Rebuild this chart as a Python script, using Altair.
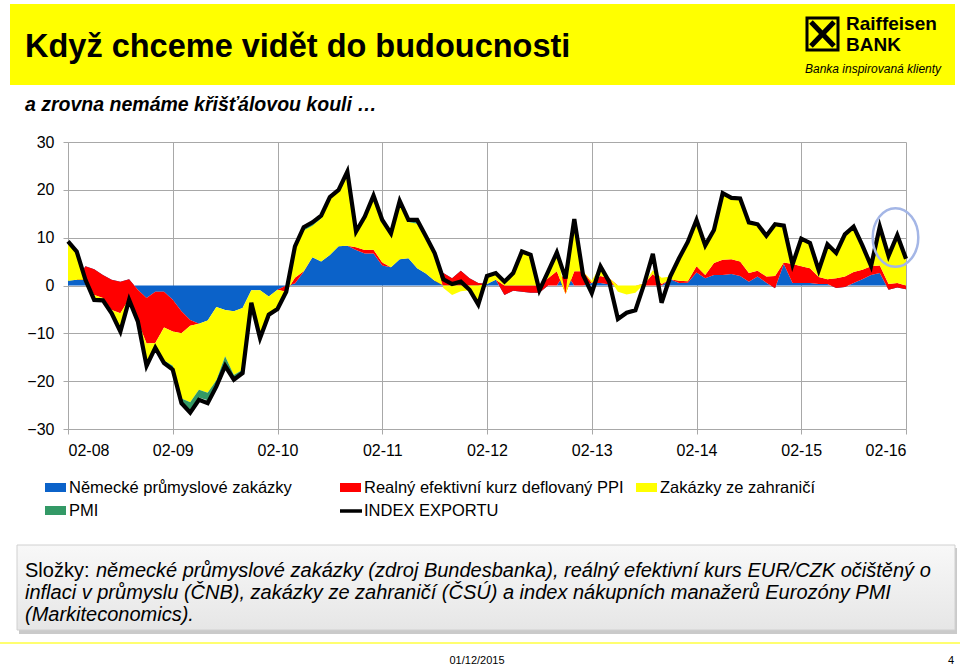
import altair as alt
import numpy as np
import pandas as pd

# ---------------- data ----------------
tick_labels = ["02-08", "02-09", "02-10", "02-11", "02-12", "02-13", "02-14", "02-15", "02-16"]
months = list(range(97))  # monthly, 2008-02 ... 2016-02

german_orders = [1.0, 1.2, 4.0, 3.4, 2.2, 1.2, 0.8, 1.3, -0.9, -2.6,
                 -1.3, -1.3, -3.0, -5.4, -7.2, -8.0, -7.3, -4.5, -5.1, -5.4,
                 -4.7, -1.0, -1.0, -2.3, -0.9, 0.0, 0.4, 2.9, 5.9, 5.0,
                 6.4, 8.2, 8.3, 7.4, 6.7, 6.7, 4.2, 3.8, 5.5, 5.7,
                 3.6, 2.5, 1.0, 2.6, 1.5, 3.1, 1.5, 0.5, 0.3, 1.2,
                 -2.0, -1.1, -1.3, -1.5, -1.5, 0.0, 0.0, 2.8, 0.0, 0.0,
                 0.5, 0.5, 0.2, 0.0, 0.0, 0.0, 0.0, 0.0, 0.0, 1.3,
                 0.5, 0.6, 2.7, 1.5, 2.2, 2.2, 2.4, 2.0, 0.8, 1.9,
                 0.6, -0.6, 4.5, 0.5, 0.5, 0.5, 0.3, 0.3, -0.5, -0.3,
                 0.5, 1.3, 2.2, 2.6, -0.9, -0.4, -0.8]

reer = [0.0, 0.0, -2.8, -5.4, -4.8, -6.3, -6.6, -4.1, -6.6, -9.5,
        -10.7, -7.5, -6.6, -4.6, -1.2, 0.0, 0.0, 0.0, 0.0, 0.0,
        0.0, 0.0, 0.0, 0.0, 0.0, -1.3, 1.2, 0.1, 0.0, 0.0,
        0.0, 0.0, 0.0, 0.6, 0.7, 0.8, 0.6, 0.0, 0.0, 0.0,
        0.0, 0.0, 0.0, -2.6, -1.5, -3.1, -1.5, -0.5, 0.0, 0.0,
        2.0, 1.1, 1.3, 1.5, 1.5, 1.5, 3.0, -4.6, 3.0, 3.0,
        0.0, 1.5, 1.3, 0.0, 0.0, 0.0, 0.3, 2.4, 0.3, 0.0,
        0.5, 0.3, 1.3, 0.7, 2.5, 3.2, 3.1, 3.0, 1.8, 1.2,
        1.3, 2.6, 0.3, 4.0, 3.5, 3.1, 1.5, 1.0, 2.0, 2.2,
        2.3, 2.0, 1.8, 1.6, 1.2, 0.9, 0.8]

foreign_orders = [8.2, 5.9, 0.0, -1.0, -0.5, -0.7, -3.8, -0.2, 0.0, -4.7,
                  -0.8, -6.9, -7.2, -13.6, -16.0, -13.8, -15.1, -15.3, -9.7, -13.3,
                  -12.9, -2.4, -9.8, -3.7, -3.9, 0.0, 6.4, 8.5, 6.6, 9.0,
                  11.7, 11.4, 15.2, 3.0, 6.7, 11.0, 8.5, 6.5, 11.9, 7.6,
                  9.3, 7.2, 5.5, -0.5, -2.0, -1.2, -1.0, -3.3, 1.7, 1.4,
                  0.8, 2.6, 7.1, 6.4, 0.0, 1.4, 3.9, 0.0, 10.9, 0.0,
                  0.5, 2.0, 0.0, -1.3, -1.9, -1.5, 0.0, 0.8, 1.3, 0.6,
                  4.7, 8.1, 9.7, 6.2, 6.9, 13.9, 12.8, 13.2, 10.6, 9.7,
                  8.5, 10.8, 7.7, 0.0, 5.8, 5.3, 1.4, 7.3, 5.3, 8.8,
                  9.5, 5.1, 0.1, 8.1, 5.9, 10.0, 5.6]

pmi = [0.0, 0.0, 0.0, 0.0, 0.0, 0.0, 0.0, 0.0, 0.0, 0.0,
       -0.2, -0.5, -0.8, -1.0, -1.6, -1.6, -1.6, -1.0, -1.5, -0.8,
       -0.5, 0.0, 0.0, 0.0, 0.0, 0.0, 0.2, 0.6, 0.6, 0.5,
       0.4, 0.4, 0.3, 0.3, 0.3, 0.3, 0.4, 0.6, 0.3, 0.4,
       0.8, 0.6, 0.3, 0.0, 0.0, 0.0, 0.0, 0.0, 0.0, 0.0,
       0.0, 0.0, 0.0, 0.0, 0.0, 0.0, 0.0, 0.0, 0.0, 0.0,
       0.0, 0.0, 0.0, 0.0, 0.0, 0.0, 0.0, 0.0, 0.0, 0.0,
       0.0, 0.0, 0.0, 0.0, 0.0, 0.0, 0.0, 0.0, 0.0, 0.0,
       0.0, 0.0, 0.0, 0.0, 0.0, 0.0, 0.0, 0.0, 0.0, 0.0,
       0.0, 0.0, 0.0, 0.0, 0.0, 0.0, 0.0]

export_index = [9.2, 7.1, 1.2, -3.0, -3.1, -5.8, -9.6, -3.0, -7.5, -16.8,
                -13.0, -16.2, -17.6, -24.6, -26.6, -23.9, -24.6, -21.1, -16.8, -19.7,
                -18.3, -3.6, -11.0, -6.1, -4.9, -1.3, 8.2, 12.2, 13.2, 14.6,
                18.5, 20.0, 23.8, 11.3, 14.4, 18.8, 13.7, 10.9, 17.7, 13.7,
                13.7, 10.3, 6.8, 1.3, 0.3, 0.8, -0.9, -4.0, 2.0, 2.6,
                0.8, 2.6, 7.1, 6.4, -1.0, 2.9, 6.9, 1.5, 13.9, 2.2,
                -1.6, 4.0, 0.8, -7.0, -5.7, -5.2, 0.3, 6.6, -3.6, 1.9,
                5.7, 9.1, 13.7, 8.4, 11.6, 19.3, 18.3, 18.2, 13.2, 12.8,
                10.4, 12.8, 12.5, 4.4, 9.8, 8.9, 3.2, 8.6, 6.8, 10.7,
                12.3, 8.4, 4.1, 12.3, 6.2, 10.5, 5.6]

legend_labels = ["Německé průmyslové zakázky", "Realný efektivní kurz deflovaný PPI",
                 "Zakázky ze zahraničí", "PMI", "INDEX EXPORTU"]

title_text = "Když chceme vidět do budoucnosti"
subtitle_text = "a zrovna nemáme křišťálovou kouli …"
note_lead = "Složky:"
note_lines = ["německé průmyslové zakázky (zdroj Bundesbanka), reálný efektivní kurs EUR/CZK očištěný o",
              "inflaci v průmyslu (ČNB), zakázky ze zahraničí (ČSÚ) a index nákupních manažerů Eurozóny PMI",
              "(Markiteconomics)."]
footer_date = "01/12/2015"
footer_page = "4"
logo_lines = ["Raiffeisen", "BANK", "Banka inspirovaná klienty"]

# ---------------- styles ----------------
FONT = "Liberation Sans"
BLUE, RED, YELLOW, GREEN = "#0b62c9", "#ff0000", "#ffff00", "#339966"
GRID = "#a8a8a8"
OX, OY = 68, 142          # plot origin in page pixels
W, H = 838, 287           # plot area size


def P(X):
    return X - OX


def Q(Y):
    return Y - OY


one = pd.DataFrame({"k": [0]})

# Excel-like stacking: each series fills between previous cumulative and its own cumulative
c1 = np.array(german_orders)
c2 = c1 + np.array(reer)
c3 = c2 + np.array(foreign_orders)
c4 = c3 + np.array(pmi)
df = pd.DataFrame({"m": months, "c0": np.zeros(len(months)), "c1": c1, "c2": c2,
                   "c3": c3, "c4": c4, "idx": export_index})

label_expr = "[" + ",".join("'%s'" % t for t in tick_labels) + "][round(datum.value/12)]"

xs = alt.Scale(domain=[0, 96], nice=False, zero=False)
ys = alt.Scale(domain=[-30, 30], nice=False, zero=False)
x_axis = alt.Axis(values=list(range(0, 97, 12)), labelExpr=label_expr, title=None,
                  grid=True, gridColor=GRID, gridWidth=1, domainColor=GRID, tickColor=GRID,
                  tickSize=5, labelPadding=8, labelFontSize=16, labelFont=FONT,
                  labelColor="#000", labelAngle=0, labelOverlap=False)
y_axis = alt.Axis(values=[-30, -20, -10, 0, 10, 20, 30], title=None, grid=True,
                  gridColor=GRID, gridWidth=1, domainColor=GRID, tickColor=GRID,
                  tickSize=5, labelPadding=9, labelFontSize=16, labelFont=FONT,
                  labelColor="#000")


def band(lo, hi, color):
    return alt.Chart(df).mark_area(color=color, interpolate="linear", opacity=1).encode(
        x=alt.X("m:Q", scale=xs, axis=x_axis),
        y=alt.Y(f"{lo}:Q", scale=ys, axis=y_axis),
        y2=alt.Y2(f"{hi}:Q"),
    )


areas = [band("c0", "c1", BLUE), band("c1", "c2", RED),
         band("c2", "c3", YELLOW), band("c3", "c4", GREEN)]

line = alt.Chart(df).mark_line(color="#000", strokeWidth=4.2, strokeJoin="miter").encode(
    x=alt.X("m:Q", scale=xs, axis=x_axis),
    y=alt.Y("idx:Q", scale=ys, axis=y_axis),
)


def text_layer(s, X, Y, size, weight="normal", style="normal", align="left", color="#000"):
    return alt.Chart(one).mark_text(align=align, baseline="middle", fontSize=size,
                                    fontWeight=weight, fontStyle=style, font=FONT,
                                    color=color).encode(
        x=alt.value(P(X)), y=alt.value(Q(Y)), text=alt.value(s))


def rect_layer(X1, Y1, X2, Y2, **kw):
    return alt.Chart(one).mark_rect(**kw).encode(
        x=alt.value(P(X1)), x2=alt.value(P(X2)), y=alt.value(Q(Y1)), y2=alt.value(Q(Y2)))


def rule_layer(X1, Y1, X2, Y2, **kw):
    return alt.Chart(one).mark_rule(**kw).encode(
        x=alt.value(P(X1)), x2=alt.value(P(X2)), y=alt.value(Q(Y1)), y2=alt.value(Q(Y2)))


deco = []
# header banner
deco.append(rect_layer(10, 4, 955, 85, color=YELLOW))
deco.append(text_layer(title_text, 25, 47, 32.5, weight="bold"))
deco.append(text_layer(subtitle_text, 25, 105, 19.5, weight="bold", style="italic"))
# logo
deco.append(rect_layer(807, 18, 838, 50, fill=YELLOW, stroke="#000", strokeWidth=3))
deco.append(rule_layer(811, 22, 834, 46, color="#000", strokeWidth=5))
deco.append(rule_layer(834, 22, 811, 46, color="#000", strokeWidth=5))
deco.append(text_layer(logo_lines[0], 846, 24, 19, weight="bold"))
deco.append(text_layer(logo_lines[1], 846, 45, 19, weight="bold"))
deco.append(text_layer(logo_lines[2], 805, 69, 12, style="italic"))

# legend
leg_pos = [(45, 488), (340, 488), (636, 488), (45, 511), (340, 511)]
leg_col = [BLUE, RED, YELLOW, GREEN, "#000"]
for i, (lab, (lx, ly), col) in enumerate(zip(legend_labels, leg_pos, leg_col)):
    if i < 4:
        deco.append(rect_layer(lx, ly - 5, lx + 21, ly + 4, color=col))
    else:
        deco.append(rule_layer(lx, ly, lx + 22, ly, color=col, strokeWidth=3.5))
    deco.append(text_layer(lab, lx + 24, ly, 16.5))

# note box
grad = alt.LinearGradient(gradient="linear",
                          stops=[alt.GradientStop(color="#f8f8f8", offset=0),
                                 alt.GradientStop(color="#e6e6e6", offset=1)],
                          x1=0, x2=0, y1=0, y2=1)
deco.append(rect_layer(19, 548, 957, 634, color="#bdbdbd", opacity=0.8))
deco.append(rect_layer(17, 545, 955, 630, fill=grad, stroke="#d0d0d0", strokeWidth=1))
deco.append(text_layer(note_lead, 25, 571, 20))
deco.append(text_layer(note_lines[0], 96, 571, 20, style="italic"))
deco.append(text_layer(note_lines[1], 25, 593, 20, style="italic"))
deco.append(text_layer(note_lines[2], 25, 615, 20, style="italic"))

# footer
deco.append(rule_layer(0, 643, 960, 643, color="#ffff70", strokeWidth=2))
deco.append(text_layer(footer_date, 477, 661, 11, align="center"))
deco.append(text_layer(footer_page, 951, 661, 11, align="center"))

# annotation ellipse around the last months
ellipse_path = ("M0,-1C0.43,-1 0.778,-0.5523 0.778,0C0.778,0.5523 0.43,1 0,1"
                "C-0.43,1 -0.778,0.5523 -0.778,0C-0.778,-0.5523 -0.43,-1 0,-1Z")
ellipse = alt.Chart(one).mark_point(shape=ellipse_path, size=3434, filled=False,
                                    color="#a4b6e6", strokeWidth=2.5, opacity=1).encode(
    x=alt.value(P(895.5)), y=alt.value(Q(237.5)))

chart = alt.layer(*areas, line, *deco, ellipse).properties(
    width=W, height=H,
    autosize=alt.AutoSizeParams(type="none"),
    padding={"left": OX, "top": OY, "right": 960 - OX - W, "bottom": 666 - OY - H},
    background="white",
).configure_view(strokeWidth=0)

chart.save("out.html", embed_options={"renderer": "svg", "actions": False})
